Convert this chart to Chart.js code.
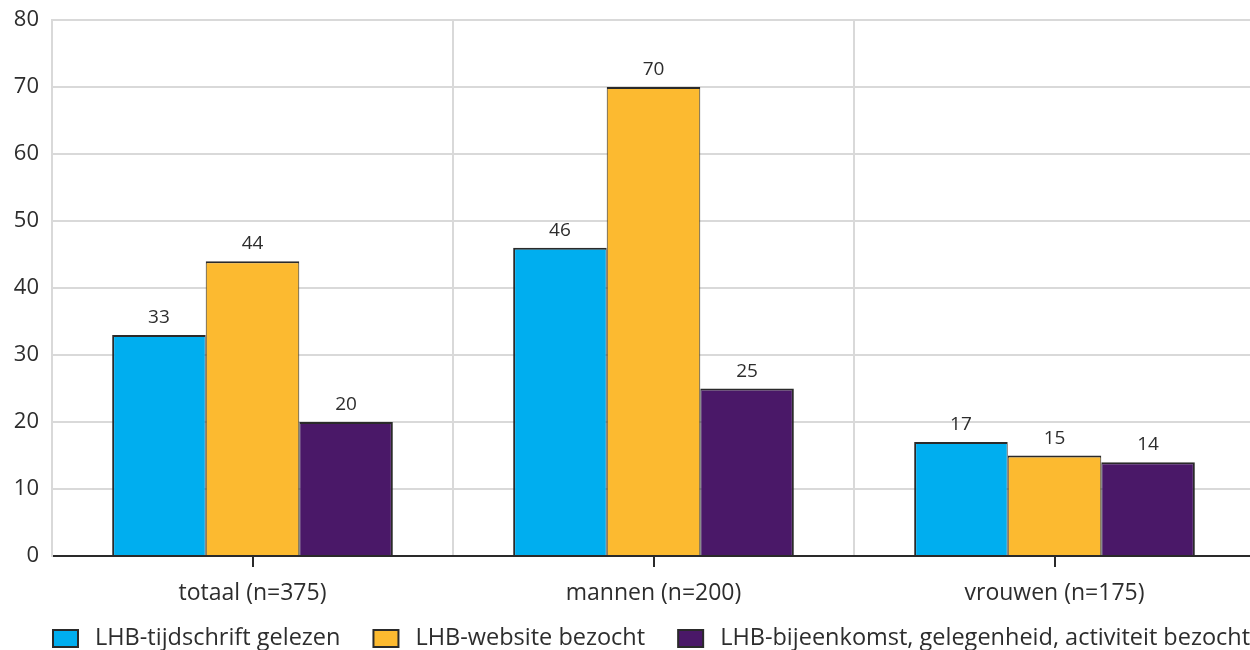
<!DOCTYPE html>
<html>
<head>
<meta charset="utf-8">
<script src="https://cdn.jsdelivr.net/npm/chart.js@4.4.1/dist/chart.umd.min.js"></script>
<style>
  html, body { margin: 0; padding: 0; background: #fff; overflow: hidden; }
  #wrap { width: 1250px; height: 650px; overflow: hidden; position: relative; }
  #box { width: 1255px; height: 650px; position: absolute; left: 0; top: 0; }
</style>
</head>
<body>
<div id="wrap"><div id="box"><canvas id="c"></canvas></div></div>
<script>
// Categories and series (percentages)
const categories = ['totaal (n=375)', 'mannen (n=200)', 'vrouwen (n=175)'];
const seriesNames = [
  'LHB-tijdschrift gelezen',
  'LHB-website bezocht',
  'LHB-bijeenkomst, gelegenheid, activiteit bezocht'
];
const tijdschrift = [33, 46, 17];
const website = [44, 70, 15];
const bijeenkomst = [20, 25, 14];
const yTicks = [0, 10, 20, 30, 40, 50, 60, 70, 80];

const colors = ['#00AEEF', '#FCBA30', '#4A1868'];
const edge = '#2a2a2a';
const textColor = '#2d2d2d';
const fontFamily = '"Open Sans", "DejaVu Sans", sans-serif';

Chart.defaults.font.family = fontFamily;
Chart.defaults.color = textColor;

// Value labels above each bar
const valueLabels = {
  id: 'valueLabels',
  afterDatasetsDraw(chart) {
    const ctx = chart.ctx;
    ctx.save();
    ctx.font = '19px ' + fontFamily;
    ctx.fillStyle = textColor;
    ctx.textAlign = 'center';
    ctx.textBaseline = 'alphabetic';
    chart.data.datasets.forEach((ds, di) => {
      chart.getDatasetMeta(di).data.forEach((bar, i) => {
        ctx.fillText(String(ds.data[i]), bar.x, bar.y - 12);
      });
    });
    ctx.restore();
  }
};

// Short tick marks under the category centres
const centreTicks = {
  id: 'centreTicks',
  afterDraw(chart) {
    const x = chart.scales.x;
    const ctx = chart.ctx;
    const b = chart.chartArea.bottom;
    ctx.save();
    ctx.strokeStyle = edge;
    ctx.lineWidth = 2;
    categories.forEach((c, i) => {
      const px = Math.round(x.getPixelForValue(i));
      ctx.beginPath();
      ctx.moveTo(px, b);
      ctx.lineTo(px, b + 11);
      ctx.stroke();
    });
    ctx.restore();
  }
};

// Legend row along the bottom, starting at the plot's left edge
const bottomLegend = {
  id: 'bottomLegend',
  afterDraw(chart) {
    const ctx = chart.ctx;
    const boxW = 27, boxH = 19, textGap = 16, itemGap = 32;
    const top = 629;
    let x = chart.chartArea.left;
    ctx.save();
    ctx.font = '23.5px ' + fontFamily;
    ctx.textBaseline = 'alphabetic';
    ctx.textAlign = 'left';
    seriesNames.forEach((name, i) => {
      ctx.fillStyle = colors[i];
      ctx.fillRect(x + 1, top + 1, boxW - 2, boxH - 2);
      ctx.strokeStyle = edge;
      ctx.lineWidth = 2;
      ctx.strokeRect(x + 1, top + 1, boxW - 2, boxH - 2);
      ctx.fillStyle = textColor;
      const tx = x + boxW + textGap;
      ctx.fillText(name, tx, top + 16);
      x = tx + ctx.measureText(name).width + itemGap;
    });
    ctx.restore();
  }
};

const borders = [
  { top: 2, left: 2, right: 1, bottom: 0 },
  { top: 2, left: 1, right: 1, bottom: 0 },
  { top: 2, left: 1, right: 2, bottom: 0 }
];
const seriesData = [tijdschrift, website, bijeenkomst];

new Chart(document.getElementById('c'), {
  type: 'bar',
  data: {
    labels: categories,
    datasets: seriesNames.map((name, i) => ({
      label: name,
      data: seriesData[i],
      backgroundColor: colors[i],
      borderColor: edge,
      borderWidth: borders[i],
      borderSkipped: false,
      categoryPercentage: 0.7,
      barPercentage: 1.0
    }))
  },
  options: {
    responsive: true,
    maintainAspectRatio: false,
    animation: false,
    layout: { padding: { top: 20, right: 0, bottom: 42, left: 0 } },
    plugins: {
      legend: { display: false },
      tooltip: { enabled: false }
    },
    scales: {
      x: {
        offset: true,
        grid: {
          offset: true,
          color: '#d9d9d9',
          lineWidth: 2,
          drawTicks: false
        },
        border: { color: edge, width: 2 },
        ticks: {
          padding: 24,
          font: { size: 23 },
          color: textColor
        },
        afterFit(scale) {
          scale.height = 52;
          scale.paddingLeft = 0;
          scale.paddingRight = 0;
        }
      },
      y: {
        min: 0,
        max: 80,
        afterBuildTicks(scale) { scale.ticks = yTicks.map(v => ({ value: v })); },
        grid: {
          color: '#d9d9d9',
          lineWidth: 2,
          drawTicks: false
        },
        border: { color: '#d9d9d9', width: 2 },
        ticks: {
          padding: 13,
          font: { size: 22 },
          color: textColor
        },
        afterFit(scale) {
          scale.width = 52;
          scale.paddingTop = 0;
          scale.paddingBottom = 0;
        }
      }
    }
  },
  plugins: [valueLabels, centreTicks, bottomLegend]
});
</script>
</body>
</html>
